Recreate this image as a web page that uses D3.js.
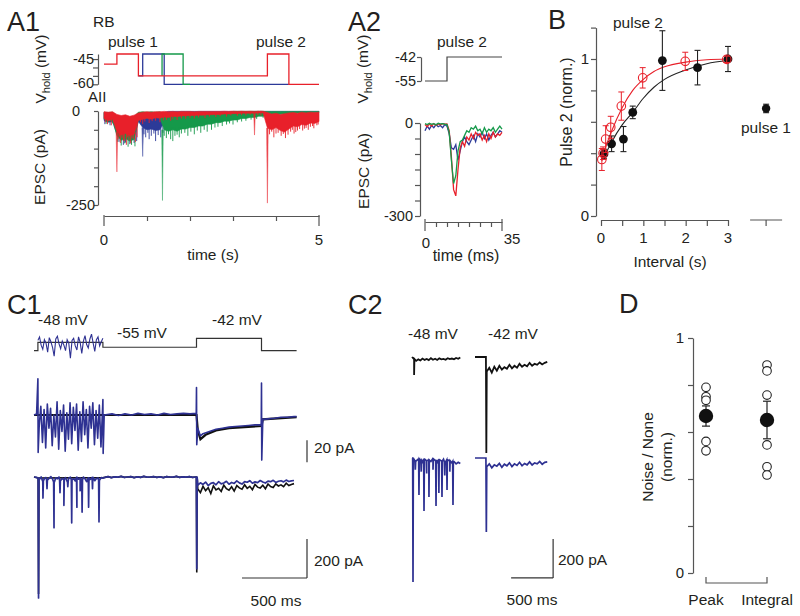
<!DOCTYPE html>
<html><head><meta charset="utf-8">
<script src="https://cdn.jsdelivr.net/npm/d3@7"></script>
<style>body{margin:0;background:#fff}svg{display:block}</style>
</head><body><svg id="fig" width="800" height="616"></svg>
<script>
// ================= DATA =================
// A1: command steps (s, mV)
const a1CmdRed   = [[0,-48],[0.3,-42],[0.8,-55],[3.8,-42],[4.3,-60],[5,-60]];
const a1CmdBlue  = [[0.8,-55],[0.9,-42],[1.4,-60],[4.3,-60]];
const a1CmdGreen = [[1.35,-55],[1.35,-42],[1.84,-60],[2.0,-60]];
// A1: EPSC envelopes, sampled every 0.1 s from 0 to 5 s (pA)
const a1Step = 0.1;
const a1RedHi = [-2,-3,-2,-9,-12,-10,-14,-11,-5,-3,-2,-3,-2,-2,-1,-2,-1,-2,-1,-1,-1,-2,-1,-1,-1,-1,-1,-1,-0.5,-1,-0.5,-1,-0.5,-1,-0.5,-1,-0.5,-0.5,-4,-8,-6,-9,-7,-5,-4,-6,-3,-5,-3,-4,-3];
const a1RedLo = [-20,-26,-22,-55,-64,-60,-66,-62,-25,-22,-19,-22,-18,-19,-16,-17,-14,-15,-13,-13,-12,-12,-11,-11,-10,-10,-9,-9,-8,-8,-7,-7,-6,-6,-6,-6,-5,-5,-45,-50,-44,-52,-56,-48,-40,-42,-36,-38,-32,-33,-28];
const a1BlueHi = [-4,-5,-4,-14,-16,-15,-18,-16,-6,-8,-10,-9,-11,-9,-4,-1,-1,-1,-1,-1,-1,-1,-1,-1,-1,-1,-1,-1,-1,-1,-1,-1,-1,-1,-1,-1,-1,-1,-1,-1,-1,-1,-1,-1,-1,-1,-1,-1,-1,-1,-1];
const a1BlueLo = [-25,-30,-28,-62,-72,-70,-74,-72,-28,-44,-50,-48,-52,-50,-30,-14,-12,-11,-10,-9,-8,-8,-7,-7,-6,-6,-5,-5,-5,-5,-4,-4,-4,-4,-3,-3,-3,-3,-4,-4,-4,-4,-4,-4,-3,-3,-3,-3,-3,-3,-3];
const a1GreenHi = [-3,-4,-3,-15,-17,-14,-18,-15,-3,-2,-3,-2,-3,-2,-8,-10,-9,-11,-8,-4,-4,-4,-4,-4,-4,-4,-4,-4,-4,-4,-1,-1,-1,-1,-1,-1,-1,-1,-1,-1,-1,-1,-1,-1,-1,-1,-1,-1,-1,-1,-1];
const a1GreenLo = [-22,-28,-25,-65,-78,-74,-80,-76,-24,-20,-19,-20,-17,-19,-50,-54,-50,-54,-48,-48,-44,-44,-40,-40,-35,-35,-31,-31,-27,-27,-24,-24,-20,-20,-17,-17,-14,-14,-12,-12,-10,-9,-8,-8,-7,-6,-6,-5,-5,-4,-4];
// A1: large spikes [s, pA]
const a1RedSpikes = [[0.3,-162],[3.5,-64],[3.8,-245]];
const a1BlueSpikes = [[0.9,-121]];
const a1GreenSpikes = [[1.36,-238]];
// A1: small noise hairs below each band [s, pA]
const a1RedHairs = [[0.03,-30],[0.08,-35],[0.12,-25],[0.17,-38],[0.22,-30],[0.27,-33],[0.33,-75],[0.36,-68],[0.38,-85],[0.42,-72],[0.45,-78],[0.47,-80],[0.52,-90],[0.55,-70],[0.58,-78],[0.62,-86],[0.65,-72],[0.68,-75],[0.73,-82],[0.77,-70],[0.85,-30],[0.9,-35],[0.95,-28],[1.05,-32],[1.12,-27],[1.2,-26],[1.3,-30],[1.38,-25],[1.45,-24],[1.55,-26],[1.6,-22],[1.7,-24],[1.8,-20],[1.9,-21],[2.0,-18],[2.1,-20],[2.2,-17],[2.35,-19],[2.45,-15],[2.6,-16],[2.7,-14],[2.85,-15],[2.95,-12],[3.1,-13],[3.2,-11],[3.3,-12],[3.4,-10],[3.58,-11],[3.65,-12],[3.85,-62],[3.9,-55],[3.95,-70],[4.0,-60],[4.05,-58],[4.12,-66],[4.17,-61],[4.22,-72],[4.28,-63],[4.34,-55],[4.38,-50],[4.42,-60],[4.46,-56],[4.5,-52],[4.55,-48],[4.62,-52],[4.66,-47],[4.7,-45],[4.75,-50],[4.8,-42],[4.85,-40],[4.88,-46],[4.95,-38],[4.98,-36]];
const a1BlueHairs = [[0.02,-35],[0.14,-38],[0.25,-34],[0.35,-82],[0.45,-90],[0.5,-84],[0.6,-88],[0.7,-85],[0.76,-80],[0.93,-62],[0.97,-70],[1.02,-58],[1.05,-75],[1.1,-66],[1.16,-60],[1.2,-80],[1.26,-64],[1.32,-70],[1.37,-58]];
const a1GreenHairs = [[0.05,-34],[0.2,-33],[0.32,-82],[0.4,-92],[0.48,-86],[0.56,-95],[0.64,-90],[0.72,-94],[1.4,-66],[1.45,-72],[1.5,-62],[1.55,-75],[1.6,-80],[1.65,-66],[1.7,-63],[1.75,-70],[1.8,-60],[1.88,-58],[1.95,-66],[2.02,-55],[2.1,-62],[2.17,-52],[2.25,-58],[2.33,-50],[2.4,-55],[2.5,-50],[2.58,-44],[2.65,-42],[2.75,-40],[2.85,-36],[2.92,-33],[3.0,-36],[3.1,-30],[3.2,-28],[3.3,-26],[3.42,-23],[3.55,-21],[3.7,-18],[3.85,-16],[4.0,-13],[4.2,-11],[4.4,-9]];

// A2: command (ms, mV) and EPSCs sampled every 1 ms (pA)
const a2Cmd = [[0,-55],[10,-42],[35,-42]];
const a2Red   = [-5,-12,-3,-10,-2,-8,-3,-6,-2,-4,-3,-25,-110,-215,-235,-150,-80,-60,-75,-45,-55,-35,-50,-30,-40,-35,-55,-40,-60,-35,-50,-30,-45,-35,-40,-30];
const a2Green = [-2,-5,-1,-4,-2,-6,-1,-3,-2,-4,-5,-30,-120,-195,-170,-90,-60,-55,-40,-25,-30,-15,-20,-10,-25,-20,-35,-15,-30,-20,-25,-15,-30,-20,-10,-20];
const a2Blue  = [-25,-10,-20,-8,-15,-5,-12,-8,-15,-5,-10,-35,-80,-85,-70,-120,-90,-60,-45,-60,-70,-55,-40,-60,-35,-45,-30,-50,-35,-55,-40,-30,-45,-35,-25,-30];

// B: recovery (interval s, normalized)
const bBlackT = [0.07,0.25,0.53,0.75,1.45,2.28,3.0];
const bBlackV = [0.395,0.46,0.49,0.66,0.99,0.945,1.0];
const bBlackE = [0.03,0.05,0.08,0.04,0.19,0.11,0.08];
const bRedT = [0.02,0.05,0.11,0.23,0.48,0.985,1.99,2.97];
const bRedV = [0.36,0.40,0.49,0.565,0.70,0.88,0.985,0.998];
const bRedE = [0.07,0.04,0.085,0.07,0.09,0.065,0.058,0.02];
const bBlackFit = [[0.05,0.36],[0.1,0.39],[0.25,0.47],[0.5,0.58],[0.75,0.66],[1.0,0.75],[1.25,0.82],[1.5,0.87],[2.0,0.93],[2.5,0.97],[3.0,0.99]];
const bRedFit = [[0.02,0.35],[0.1,0.43],[0.25,0.54],[0.5,0.69],[0.75,0.80],[1.0,0.87],[1.25,0.92],[1.5,0.95],[2.0,0.98],[2.5,0.995],[3.0,1.0]];
const bPulse1 = {pos: 3.9, v: 0.685, e: 0.027};
const bXTicks = [0,0.5,1,1.5,2,2.5,3];
const bXLabels = [0,1,2,3];

// C1: command (s, mV)
const c1Cmd = [[0,-60],[0.03,-48],[0.53,-55],[1.25,-42],[1.75,-60],[2.02,-60]];
const c1CmdNoise = [-45,-40,-52,-58,-44,-49,-62,-41,-47,-55,-68,-43,-39,-50,-57,-46,-52,-60,-44,-49,-71,-45,-42,-53,-59,-40,-48,-64,-46,-38,-51,-56,-43,-36,-49,-61,-44,-40,-53,-47,-42];
// C1 middle (20 pA) trace
const c1MidStart = [[0,0],[0.02,1],[0.03,33],[0.032,-34]];
const c1MidNoise = [-10,8,-25,5,-30,10,-12,6,-28,0,-20,12,-31,4,-15,9,-33,2,-22,11,-26,7,-14,10,-32,3,-24,12,-18,5,-30,8,-12,11,-27,4,-21,9,-29,6];
const c1MidRest = [[0.53,14],[0.532,-35],[0.54,0],[0.6,1],[0.65,-0.5],[0.7,1],[0.75,0],[0.8,1.5],[0.85,0.5],[0.9,1],[0.95,0],[1.0,1.5],[1.05,0.5],[1.1,1],[1.15,1.5],[1.2,1],[1.248,1.5],[1.25,25],[1.252,-27],[1.26,-12],[1.28,-19],[1.3,-17],[1.35,-15],[1.4,-13],[1.45,-12],[1.5,-11],[1.55,-10.5],[1.6,-10],[1.65,-9.5],[1.7,-9],[1.748,-9],[1.75,29],[1.752,-41],[1.76,-4],[1.8,-3.5],[1.85,-3],[1.9,-2],[1.95,-2],[2.0,-1.5],[2.02,-1.5]];
const c1MidBlack = [[0,0],[1.25,0],[1.26,-14],[1.28,-22],[1.32,-18],[1.4,-14],[1.5,-12],[1.75,-10],[1.76,-4],[2.02,-2]];
// C1 bottom (200 pA) trace
const c1BotNoise = [-5,-12,0,-20,-8,-3,-15,-6,2,-10,-25,-4,-9,0,-18,-7,-12,-3,-22,-5,-1,-14,-8,-20,-2,-11,-6,-16,0,-9,-24,-4,-13,-7,-2,-19,-8,-5,-15,-3,-6];
const c1BotQuiet = [-2,2,-3,1,-1,3,-2,0,2,-3,1,-2,3,-1,0,2,-2,1,-3,2,0,-1,3,-2,1,-1,2,-2,0];
const c1BotPostBlue = [-42,-30,-38,-26,-44,-33,-29,-40,-24,-35,-31,-22,-37,-28,-33,-20,-30,-36,-24,-27,-19,-32,-25,-29,-18,-26,-31,-21,-24,-17,-28,-22,-19,-25,-16,-23,-20,-18];
const c1BotPostBlack = [-62,-80,-48,-70,-55,-85,-45,-66,-58,-74,-42,-60,-68,-50,-72,-44,-56,-63,-40,-58,-48,-65,-38,-52,-57,-42,-60,-36,-49,-54,-35,-46,-40,-50,-32,-44,-38,-34];
const c1BotSpikes = [[0.035,-620],[0.069,-108],[0.1,-60],[0.154,-260],[0.2,-80],[0.23,-145],[0.26,-50],[0.29,-235],[0.33,-155],[0.355,-70],[0.37,-180],[0.42,-155],[0.45,-60],[0.5,-230],[1.252,-470]];
const c1BotBlackSpikes = [[0.035,-600],[1.252,-490]];

// C2 traces (s, pA)
const c2Black48 = [0,-10,-20,-12,-18,-8,-15,-10,-16,-6,-14,-9,-15,-7,-12,-10,-14,-6,-11,-8,-12,-5,-9,-3];
const c2Black48Spikes = [[0.025,-92]];
const c2Black42 = [-75,-55,-80,-50,-70,-45,-65,-52,-60,-40,-58,-45,-55,-35,-50,-40,-48,-30,-45,-35,-40,-28,-38,-30,-25];
const c2Black42Spike = [0.135,-492];
const c2Blue48 = [0,-8,-15,-5,-12,-20,-6,-14,-10,-18,-4,-12,-22,-8,-15,-6,-20,-10,-14,-25,-18,-30,-22,-28];
const c2Blue48Spikes = [[0.012,-636],[0.04,-60],[0.083,-190],[0.11,-70],[0.143,-272],[0.175,-80],[0.202,-200],[0.25,-60],[0.286,-246],[0.32,-180],[0.357,-200],[0.39,-90],[0.417,-164],[0.45,-70],[0.488,-241]];
const c2Blue42 = [-45,-30,-50,-35,-42,-28,-48,-32,-40,-25,-44,-30,-38,-22,-40,-28,-35,-20,-36,-25,-30,-18,-32,-22,-20];
const c2Blue42Spike = [0.135,-379];

// D: noise / none
const dCats = ["Peak","Integral"];
const dMean = [0.668,0.651];
const dSem = [0.043,0.08];
const dCells = [[0.79,0.75,0.735,0.56,0.52],[0.885,0.86,0.757,0.545,0.452,0.417]];
const dTicks = [0,0.2,0.4,0.6,0.8,1];

// ================= DRAW =================
const FONT = '"Liberation Sans", Arial, Helvetica, sans-serif';
const INK = "#231f20", AXC = "#555", RED = "#e8202a", GREEN = "#15994a", BLUE = "#2c3a98", NAVY = "#2e3192";
const svg = d3.select("#fig");

function txt(g, x, y, s, size, anchor) {
  return g.append("text").attr("x", x).attr("y", y).text(s)
    .attr("font-family", FONT).attr("font-size", size).attr("fill", INK)
    .attr("text-anchor", anchor || "start");
}
function vtxt(g, x, y, s, size) {
  return g.append("text").attr("transform", `translate(${x},${y}) rotate(-90)`)
    .attr("font-family", FONT).attr("font-size", size).attr("fill", INK)
    .attr("text-anchor", "middle").text(s);
}
function vhold(g, x, y) {
  const t = g.append("text").attr("transform", `translate(${x},${y}) rotate(-90)`)
    .attr("font-family", FONT).attr("font-size", 15.5).attr("fill", INK).attr("text-anchor", "middle");
  t.append("tspan").text("V");
  t.append("tspan").attr("font-size", 11).attr("dy", 4).text("hold");
  t.append("tspan").attr("dy", -4).text(" (mV)");
}
function styleAxis(g) {
  g.attr("font-family", null).attr("font-size", null);
  g.select(".domain").attr("stroke", AXC).attr("stroke-width", 1.2);
  g.selectAll(".tick line").attr("stroke", AXC).attr("stroke-width", 1.2);
  g.selectAll(".tick text").remove();
}
function lineGen(xs, ys, curve) {
  return d3.line().x(d => xs(d[0])).y(d => ys(d[1])).curve(curve || d3.curveLinear);
}
function sampled(vals, t0, step) { return vals.map((v, i) => [t0 + i * step, v]); }
function withSpikes(pts, spikes, w) {
  const out = pts.slice();
  spikes.forEach(([t, p]) => {
    let best = pts[0];
    pts.forEach(q => { if (Math.abs(q[0] - t) < Math.abs(best[0] - t)) best = q; });
    out.push([t - w, best[1]], [t, p], [t + w, best[1]]);
  });
  return out.sort((a, b) => a[0] - b[0]);
}

// ---------- Panel labels ----------
[["A1",7,31],["A2",348,31],["B",548,29],["C1",7,314],["C2",348,314],["D",619,313]].forEach(([s,x,y]) => txt(svg,x,y,s,27));

// ---------- A1 ----------
{
  const g = svg.append("g");
  const x = d3.scaleLinear().domain([0,5]).range([104,319]);
  const yV = d3.scaleLinear().domain([-60,-42]).range([84.3,54]);
  const yE = d3.scaleLinear().domain([-250,0]).range([205,111]);
  g.append("g").attr("transform","translate(98,0)").call(d3.axisLeft(yV).tickValues([-60,-55,-50,-45]).tickSize(5).tickSizeOuter(0)).call(styleAxis);
  g.append("g").attr("transform","translate(98,0)").call(d3.axisLeft(yE).tickValues([-250,-200,-150,-100,-50,0]).tickSize(4).tickSizeOuter(0)).call(styleAxis);
  g.append("g").attr("transform","translate(0,216)").call(d3.axisBottom(x).tickValues([1,2,3,4]).tickSize(5).tickSizeOuter(0)).call(styleAxis);
  [0,5].forEach(v => g.append("line").attr("x1",x(v)).attr("x2",x(v)).attr("y1",215).attr("y2",226).attr("stroke",AXC).attr("stroke-width",1.2));
  txt(g,94,yV(-45)+5,"-45",14.5,"end"); txt(g,94,yV(-60)+4,"-60",14.5,"end");
  txt(g,80,yE(0)+5,"0",14.5,"end"); txt(g,95,yE(-250)+5,"-250",14.5,"end");
  txt(g,x(0),245,"0",15,"middle"); txt(g,x(5),245,"5",15,"middle");
  txt(g,213,260,"time (s)",15.5,"middle");
  txt(g,93,27,"RB",15.5); txt(g,88,102,"AII",15);
  txt(g,108,47,"pulse 1",15.5); txt(g,256,47,"pulse 2",15.5);
  vhold(g,46,69);
  vtxt(g,45,167,"EPSC (pA)",15.5);
  const cl = lineGen(x, yV, d3.curveStepAfter);
  [[a1CmdBlue,BLUE],[a1CmdGreen,GREEN],[a1CmdRed,RED]].forEach(([d,c]) =>
    g.append("path").attr("d", cl(d)).attr("fill","none").attr("stroke",c).attr("stroke-width",1.3));
  const traces = [[a1BlueHi,a1BlueLo,a1BlueSpikes,a1BlueHairs,BLUE],[a1GreenHi,a1GreenLo,a1GreenSpikes,a1GreenHairs,GREEN],[a1RedHi,a1RedLo,a1RedSpikes,a1RedHairs,RED]];
  traces.forEach(([hi,lo,sp,hairs,c]) => {
    const data = hi.map((h,i) => ({t: i*a1Step, hi: h, lo: lo[i]}));
    g.append("path").attr("d", d3.area().x(d=>x(d.t)).y0(d=>yE(d.hi)).y1(d=>yE(d.lo))(data))
      .attr("fill", c).attr("stroke", c).attr("stroke-width", 0.6);
    hairs.forEach(([t,p]) => {
      const i = Math.round(t / a1Step);
      g.append("line").attr("x1",x(t)).attr("x2",x(t)).attr("y1",yE(Math.max(lo[i],p)) - 2).attr("y2",yE(p))
        .attr("stroke", c).attr("stroke-width", 0.9);
    });
    sp.forEach(([t,p]) => {
      const i = Math.round(t / a1Step);
      g.append("path").attr("d", d3.line()([[x(t)-0.8,yE(lo[i])],[x(t),yE(p)],[x(t)+0.8,yE(lo[i])]]))
        .attr("fill", c).attr("stroke", c).attr("stroke-width", 0.5).attr("opacity", 0.85);
    });
  });
}

// ---------- A2 ----------
{
  const g = svg.append("g");
  const x = d3.scaleLinear().domain([0,35]).range([425,502]);
  const yV = d3.scaleLinear().domain([-55,-42]).range([81,57]);
  const yE = d3.scaleLinear().domain([-300,0]).range([216,123]);
  g.append("g").attr("transform","translate(421,0)").call(d3.axisLeft(yV).tickValues([-55,-42]).tickSize(4).tickSizeOuter(0)).call(styleAxis);
  g.append("g").attr("transform","translate(420,0)").call(d3.axisLeft(yE).tickValues([-300,-250,-200,-150,-100,-50,0]).tickSize(5).tickSizeOuter(0)).call(styleAxis);
  g.append("g").attr("transform","translate(0,222)").call(d3.axisBottom(x).tickValues([5,10,15,20,25,30]).tickSize(5).tickSizeOuter(0)).call(styleAxis);
  [0,35].forEach(v => g.append("line").attr("x1",x(v)).attr("x2",x(v)).attr("y1",219).attr("y2",231).attr("stroke",AXC).attr("stroke-width",1.2));
  txt(g,416,yV(-42)+5,"-42",14.5,"end"); txt(g,416,yV(-55)+5,"-55",14.5,"end");
  txt(g,413,yE(0)+5,"0",14.5,"end"); txt(g,413,yE(-300)+5,"-300",14.5,"end");
  txt(g,426,248,"0",15,"middle"); txt(g,512,244,"35",15,"middle");
  txt(g,466,261,"time (ms)",16,"middle");
  txt(g,437,47,"pulse 2",15.5);
  vhold(g,368,69);
  vtxt(g,369,171,"EPSC (pA)",15.5);
  g.append("path").attr("d", lineGen(x,yV,d3.curveStepAfter)(a2Cmd)).attr("fill","none").attr("stroke","#444").attr("stroke-width",1.2);
  [[a2Blue,BLUE],[a2Red,RED],[a2Green,GREEN]].forEach(([d,c]) =>
    g.append("path").attr("d", lineGen(x,yE)(sampled(d,0,1))).attr("fill","none").attr("stroke",c).attr("stroke-width",1.3));
}

// ---------- B ----------
{
  const g = svg.append("g");
  const x = d3.scaleLinear().domain([0,3]).range([601,728]);
  const y = d3.scaleLinear().domain([0,1.2]).range([216,27.6]);
  g.append("g").attr("transform","translate(596,0)").call(d3.axisLeft(y).tickValues([0,0.2,0.4,0.6,0.8,1,1.2]).tickSize(5).tickSizeOuter(0)).call(styleAxis);
  g.append("g").attr("transform","translate(0,220)").call(d3.axisBottom(x).tickValues(bXTicks).tickSize(6).tickSizeOuter(0)).call(styleAxis);
  g.append("line").attr("x1",x(bPulse1.pos)-16).attr("x2",x(bPulse1.pos)+16).attr("y1",220).attr("y2",220).attr("stroke",AXC).attr("stroke-width",1.2);
  g.append("line").attr("x1",x(bPulse1.pos)).attr("x2",x(bPulse1.pos)).attr("y1",220).attr("y2",226).attr("stroke",AXC).attr("stroke-width",1.2);
  txt(g,589,y(1)+5,"1",15,"end"); txt(g,589,y(0)+5,"0",15,"end");
  bXLabels.forEach(v => txt(g,x(v),243,String(v),15,"middle"));
  txt(g,670,267,"Interval (s)",15.5,"middle");
  vtxt(g,572,112,"Pulse 2 (norm.)",16);
  txt(g,613,28,"pulse 2",15.5); txt(g,741,133,"pulse 1",15.5);
  const fl = d3.line().x(d=>x(d[0])).y(d=>y(d[1])).curve(d3.curveMonotoneX);
  g.append("path").attr("d", fl(bBlackFit)).attr("fill","none").attr("stroke","#222").attr("stroke-width",1.1);
  g.append("path").attr("d", fl(bRedFit)).attr("fill","none").attr("stroke",RED).attr("stroke-width",1.1);
  function ebar(px, v, e, c, w) {
    g.append("line").attr("x1",px).attr("x2",px).attr("y1",y(v-e)).attr("y2",y(v+e)).attr("stroke",c).attr("stroke-width",w);
    [v-e, v+e].forEach(yy => g.append("line").attr("x1",px-3).attr("x2",px+3).attr("y1",y(yy)).attr("y2",y(yy)).attr("stroke",c).attr("stroke-width",w));
  }
  bBlackT.forEach((t,i) => ebar(x(t), bBlackV[i], bBlackE[i], "#222", 1.1));
  ebar(x(bPulse1.pos), bPulse1.v, bPulse1.e, "#222", 1.1);
  bBlackT.forEach((t,i) => g.append("circle").attr("cx",x(t)).attr("cy",y(bBlackV[i])).attr("r",4.4).attr("fill","#111"));
  g.append("circle").attr("cx",x(bPulse1.pos)).attr("cy",y(bPulse1.v)).attr("r",4.2).attr("fill","#111");
  bRedT.forEach((t,i) => ebar(x(t), bRedV[i], bRedE[i], RED, 1));
  bRedT.forEach((t,i) => g.append("circle").attr("cx",x(t)).attr("cy",y(bRedV[i])).attr("r",4.3).attr("fill","none").attr("stroke",RED).attr("stroke-width",1.1));
}

// ---------- C1 ----------
{
  const g = svg.append("g");
  const x = d3.scaleLinear().domain([0,2]).range([34,294]);
  const yC = d3.scaleLinear().domain([-60,-42]).range([350.7,338.3]);
  const yM = d3.scaleLinear().domain([0,20]).range([415,393]);
  const yB = d3.scaleLinear().domain([0,-200]).range([477,516]);
  txt(g,38,325,"-48 mV",15.5); txt(g,117,338,"-55 mV",15.5); txt(g,212,325,"-42 mV",15.5);
  g.append("path").attr("d", lineGen(x,yC,d3.curveStepAfter)(c1Cmd)).attr("fill","none").attr("stroke","#333").attr("stroke-width",1.2);
  g.append("path").attr("d", lineGen(x,yC)(sampled(c1CmdNoise,0.03,0.0125))).attr("fill","none").attr("stroke",NAVY).attr("stroke-width",1.1);
  // middle
  g.append("path").attr("d", lineGen(x,yM)(c1MidBlack)).attr("fill","none").attr("stroke","#111").attr("stroke-width",2.2);
  const mid = c1MidStart.concat(sampled(c1MidNoise,0.04,0.0125), c1MidRest);
  g.append("path").attr("d", lineGen(x,yM)(mid)).attr("fill","none").attr("stroke",NAVY).attr("stroke-width",1.6).attr("stroke-linejoin","round");
  // bottom
  const quiet = sampled(c1BotQuiet,0.545,0.025);
  const blk = withSpikes([[0,0],[0.03,-5],[0.53,-3]].concat(quiet, sampled(c1BotPostBlack,1.26,0.02)), c1BotBlackSpikes, 0.003);
  g.append("path").attr("d", lineGen(x,yB)(blk)).attr("fill","none").attr("stroke","#111").attr("stroke-width",1.6);
  const blu = withSpikes([[0,0],[0.02,-2]].concat(sampled(c1BotNoise,0.03,0.0125), quiet, sampled(c1BotPostBlue,1.26,0.02)), c1BotSpikes, 0.003);
  g.append("path").attr("d", lineGen(x,yB)(blu)).attr("fill","none").attr("stroke",NAVY).attr("stroke-width",1.7).attr("stroke-linejoin","round");
  // scale bars
  const sb = (x1,y1,x2,y2) => g.append("line").attr("x1",x1).attr("y1",y1).attr("x2",x2).attr("y2",y2).attr("stroke","#333").attr("stroke-width",1.2);
  sb(x(2.1), yM(-23), x(2.1), yM(-43));
  sb(x(2.1), yB(-318), x(2.1), yB(-518));
  sb(x(1.6), yB(-518), x(2.1), yB(-518));
  txt(g,314,453,"20 pA",15.5); txt(g,314,566,"200 pA",15.5); txt(g,276,606,"500 ms",15.5,"middle");
}

// ---------- C2 ----------
{
  const g = svg.append("g");
  const x = d3.scaleLinear().domain([0,0.5]).range([0,42]);
  const yK = d3.scaleLinear().domain([0,-200]).range([357,396]);
  const yU = d3.scaleLinear().domain([0,-200]).range([458,497]);
  txt(g,408,339,"-48 mV",15.5); txt(g,488,339,"-42 mV",15.5);
  const g48 = g.append("g").attr("transform","translate(412,0)");
  const g42 = g.append("g").attr("transform","translate(475,0)");
  const p48k = withSpikes(sampled(c2Black48,0,0.025), c2Black48Spikes, 0.004);
  g48.append("path").attr("d", lineGen(x,yK)(p48k)).attr("fill","none").attr("stroke","#111").attr("stroke-width",1.8);
  const p42k = [[0,0],[0.13,0],[c2Black42Spike[0],c2Black42Spike[1]]].concat(sampled(c2Black42,0.14,0.03));
  g42.append("path").attr("d", lineGen(x,yK)(p42k)).attr("fill","none").attr("stroke","#111").attr("stroke-width",1.8);
  const p48u = withSpikes(sampled(c2Blue48,0,0.025), c2Blue48Spikes, 0.004);
  g48.append("path").attr("d", lineGen(x,yU)(p48u)).attr("fill","none").attr("stroke",NAVY).attr("stroke-width",1.7);
  const p42u = [[0,0],[0.13,0],[c2Blue42Spike[0],c2Blue42Spike[1]]].concat(sampled(c2Blue42,0.14,0.03));
  g42.append("path").attr("d", lineGen(x,yU)(p42u)).attr("fill","none").attr("stroke",NAVY).attr("stroke-width",1.7);
  const sb = (x1,y1,x2,y2) => g42.append("line").attr("x1",x1).attr("y1",y1).attr("x2",x2).attr("y2",y2).attr("stroke","#333").attr("stroke-width",1.2);
  sb(x(0.93), yU(-415), x(0.93), yU(-615));
  sb(x(0.43), yU(-615), x(0.93), yU(-615));
  txt(g,558,565,"200 pA",15.5); txt(g,532,605,"500 ms",15.5,"middle");
}

// ---------- D ----------
{
  const g = svg.append("g");
  const y = d3.scaleLinear().domain([0,1]).range([573,338]);
  const x = d3.scalePoint().domain(dCats).range([706,767]);
  g.append("g").attr("transform","translate(693,0)").call(d3.axisLeft(y).tickValues(dTicks).tickSize(5).tickSizeOuter(0)).call(styleAxis);
  txt(g,684,y(1)+5,"1",15,"end"); txt(g,684,y(0)+5,"0",15,"end");
  g.append("path").attr("d", d3.line()([[x("Peak"),577],[x("Peak"),583],[x("Integral"),583],[x("Integral"),577]]))
    .attr("fill","none").attr("stroke",AXC).attr("stroke-width",1.2);
  dCats.forEach(c => txt(g,x(c),605,c,15.5,"middle"));
  vtxt(g,653,457,"Noise / None",15.5);
  vtxt(g,672,457,"(norm.)",15.5);
  dCats.forEach((c,i) => {
    dCells[i].forEach(v => g.append("circle").attr("cx",x(c)).attr("cy",y(v)).attr("r",4.3).attr("fill","#fff").attr("stroke","#222").attr("stroke-width",1.1));
    const m = dMean[i], e = dSem[i];
    g.append("line").attr("x1",x(c)).attr("x2",x(c)).attr("y1",y(m-e)).attr("y2",y(m+e)).attr("stroke","#222").attr("stroke-width",1.2);
    [m-e,m+e].forEach(v => g.append("line").attr("x1",x(c)-4).attr("x2",x(c)+4).attr("y1",y(v)).attr("y2",y(v)).attr("stroke","#222").attr("stroke-width",1.2));
    g.append("circle").attr("cx",x(c)).attr("cy",y(m)).attr("r",7.2).attr("fill","#111");
  });
}
</script></body></html>
